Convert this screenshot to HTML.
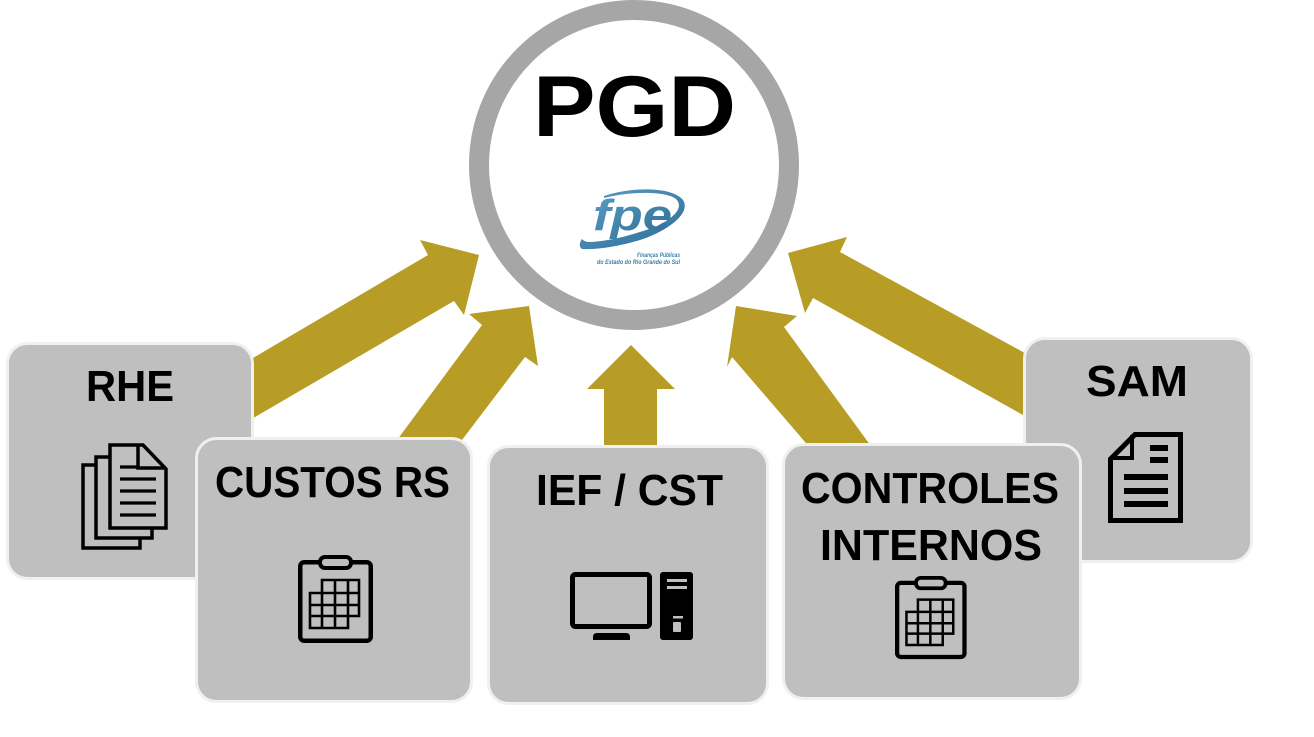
<!DOCTYPE html>
<html>
<head>
<meta charset="utf-8">
<style>
  html, body { margin:0; padding:0; background:#fff; }
  body { width:1314px; height:737px; overflow:hidden; }
  svg { display:block; }
  .lbl { font-family:"Liberation Sans", Arial, sans-serif; font-weight:bold; fill:#000; }
</style>
</head>
<body>
<svg width="1314" height="737" viewBox="0 0 1314 737" xmlns="http://www.w3.org/2000/svg">
  <defs>
    <linearGradient id="fpeg" x1="0" y1="0" x2="1" y2="1">
      <stop offset="0" stop-color="#5b9dc3"/>
      <stop offset="1" stop-color="#2d6d97"/>
    </linearGradient>
    <g id="clip">
      <rect x="2.25" y="7.25" width="70.5" height="78.5" rx="4" ry="4" fill="#bfbfbf" stroke="#000" stroke-width="4.5"/>
      <rect x="22" y="2" width="31" height="11" rx="5" ry="5" fill="#bfbfbf" stroke="#000" stroke-width="4"/>
      <g fill="none" stroke="#000" stroke-width="2.6">
        <polygon points="24,25 61,25 61,61 50,61 50,73 12,73 12,38 24,38"/>
        <line x1="24" y1="38" x2="61" y2="38"/>
        <line x1="12" y1="50" x2="61" y2="50"/>
        <line x1="12" y1="61" x2="50" y2="61"/>
        <line x1="24" y1="38" x2="24" y2="73"/>
        <line x1="37" y1="25" x2="37" y2="73"/>
        <line x1="50" y1="25" x2="50" y2="61"/>
      </g>
    </g>
  </defs>

  <rect x="0" y="0" width="1314" height="737" fill="#ffffff"/>

  <!-- Arrows -->
  <g fill="#b79d25">
    <polygon points="240,366 253,358 428,255 420,240 479,255 464,315 454,301 255,417 240,426"/>
    <polygon points="390,450 400,436 482,325 469,314 529,306 538,366 525,357 462,440 453,452"/>
    <polygon points="604,460 604,389 587,389 631,345 675,389 657,389 657,460"/>
    <polygon points="820,460 805,442 732,357 727,367 736,306 797,316 784,327 868,442 881,460"/>
    <polygon points="1040,424 1023,415 813,298 805,313 788,253 847,237 840,252 1023,352 1040,361"/>
  </g>

  <!-- Central circle -->
  <circle cx="634" cy="165" r="155" fill="#ffffff" stroke="#a6a6a6" stroke-width="20"/>
  <text class="lbl" x="533" y="136" font-size="86" textLength="203" lengthAdjust="spacingAndGlyphs">PGD</text>

  <!-- fpe logo -->
  <g>
    <path d="M604,196 C630,187 672,186 683,200 C692,214 665,232 640,240 C620,246 598,250 582,249 C579,247 579,243 582,239 C584,241 586,242 590,242 C610,241 632,235 652,228 C672,220 685,208 676,199 C666,191 632,191 604,198 Z" fill="url(#fpeg)"/>
    <text x="593" y="230" font-family="'Liberation Sans', Arial, sans-serif" font-weight="bold" font-style="italic" font-size="44" fill="url(#fpeg)" textLength="79" lengthAdjust="spacingAndGlyphs">fpe</text>
    <text x="637" y="257" font-family="'Liberation Sans', Arial, sans-serif" font-weight="bold" font-style="italic" font-size="6" fill="#3b7fa6" textLength="43" lengthAdjust="spacingAndGlyphs">Finanças Públicas</text>
    <text x="597" y="264" font-family="'Liberation Sans', Arial, sans-serif" font-weight="bold" font-style="italic" font-size="6" fill="#3b7fa6" textLength="83" lengthAdjust="spacingAndGlyphs">do Estado do Rio Grande do Sul</text>
  </g>

  <!-- RHE box -->
  <rect x="7.5" y="343.5" width="245" height="235" rx="20" ry="20" fill="#bfbfbf" stroke="#f0f0f0" stroke-width="3"/>
  <text class="lbl" x="86" y="401" font-size="44" textLength="88" lengthAdjust="spacingAndGlyphs">RHE</text>
  <g fill="#bfbfbf" stroke="#000" stroke-width="3.5" stroke-linejoin="miter">
    <rect x="83" y="465" width="57" height="83"/>
    <rect x="96" y="457" width="56" height="81"/>
    <polygon points="110,445 143,445 166,469 166,528 110,528"/>
    <polyline points="138,445 138,468 166,468" fill="none"/>
  </g>
  <g stroke="#000" stroke-width="3.2">
    <line x1="120" y1="467" x2="138" y2="467"/>
    <line x1="120" y1="479" x2="156" y2="479"/>
    <line x1="120" y1="491" x2="156" y2="491"/>
    <line x1="120" y1="503" x2="156" y2="503"/>
    <line x1="120" y1="515" x2="156" y2="515"/>
  </g>

  <!-- CUSTOS RS box -->
  <rect x="196.5" y="438.5" width="275" height="263" rx="20" ry="20" fill="#bfbfbf" stroke="#f0f0f0" stroke-width="3"/>
  <text class="lbl" x="215" y="497" font-size="44" textLength="235" lengthAdjust="spacingAndGlyphs">CUSTOS RS</text>
  <use href="#clip" transform="translate(298,555)"/>

  <!-- IEF / CST box -->
  <rect x="488.5" y="446.5" width="279" height="257" rx="20" ry="20" fill="#bfbfbf" stroke="#f0f0f0" stroke-width="3"/>
  <text class="lbl" x="536" y="505" font-size="44" textLength="187" lengthAdjust="spacingAndGlyphs">IEF / CST</text>
  <g>
    <rect x="572.5" y="574.5" width="77" height="52" rx="3" ry="3" fill="none" stroke="#000" stroke-width="5"/>
    <path d="M593,640 L593,637 Q593,633 597,633 L626,633 Q630,633 630,637 L630,640 Z" fill="#000"/>
    <rect x="660" y="572" width="33" height="68" rx="3" ry="3" fill="#000"/>
    <rect x="667" y="579" width="20" height="3" fill="#bfbfbf"/>
    <rect x="667" y="586" width="20" height="3" fill="#bfbfbf"/>
    <rect x="673" y="616" width="10" height="2.5" fill="#bfbfbf"/>
    <rect x="673" y="622" width="8" height="10" rx="1" fill="#bfbfbf"/>
  </g>

  <!-- SAM box -->
  <rect x="1024.5" y="338.5" width="227" height="223" rx="20" ry="20" fill="#bfbfbf" stroke="#f0f0f0" stroke-width="3"/>
  <text class="lbl" x="1086" y="396" font-size="44" textLength="102" lengthAdjust="spacingAndGlyphs">SAM</text>
  <g>
    <polygon points="1135,434.5 1180.5,434.5 1180.5,520.5 1110.5,520.5 1110.5,459" fill="#bfbfbf" stroke="#000" stroke-width="5"/>
    <polyline points="1132,435 1132,458 1112,458" fill="none" stroke="#000" stroke-width="4"/>
    <g stroke="#000" stroke-width="6">
      <line x1="1150" y1="448" x2="1168" y2="448"/>
      <line x1="1150" y1="460" x2="1168" y2="460"/>
      <line x1="1124" y1="477" x2="1168" y2="477"/>
      <line x1="1124" y1="491" x2="1168" y2="491"/>
      <line x1="1124" y1="504" x2="1168" y2="504"/>
    </g>
  </g>

  <!-- CONTROLES INTERNOS box -->
  <rect x="783.5" y="444.5" width="297" height="254" rx="20" ry="20" fill="#bfbfbf" stroke="#f0f0f0" stroke-width="3"/>
  <text class="lbl" x="801" y="503" font-size="44" textLength="258" lengthAdjust="spacingAndGlyphs">CONTROLES</text>
  <text class="lbl" x="820" y="560" font-size="44" textLength="222" lengthAdjust="spacingAndGlyphs">INTERNOS</text>
  <use href="#clip" transform="translate(895,576) scale(0.955,0.945)"/>
</svg>
</body>
</html>
